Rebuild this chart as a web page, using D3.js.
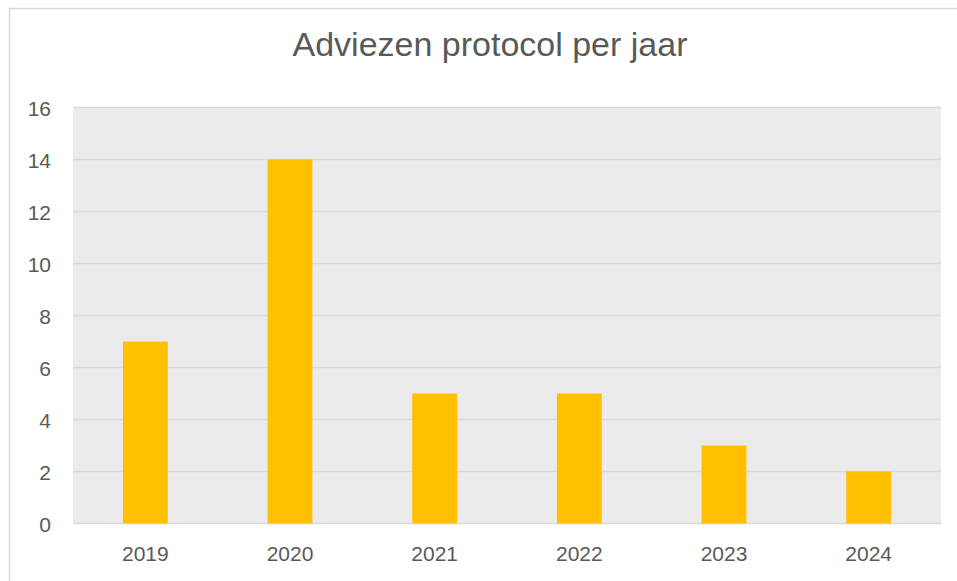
<!DOCTYPE html>
<html>
  <head>
    <meta charset="utf-8">
    <title>Adviezen protocol per jaar</title>
    <script src="https://cdn.jsdelivr.net/npm/d3@7"></script>
    <style>
      body { margin: 0; background: #fff; }
    </style>
  </head>
  <body>
    <script>
    var w = 957;
    var h = 581;

    var years = ["2019", "2020", "2021", "2022", "2023", "2024"];
    var adviezen = [7, 14, 5, 5, 3, 2];
    var yTicks = [0, 2, 4, 6, 8, 10, 12, 14, 16];

    var plotLeft = 73, plotRight = 941, plotTop = 107.5, plotBottom = 523.5;
    var font = "'Liberation Sans', Arial, sans-serif";
    var grey = "#595959";

    var svg = d3.select("body")
      .append("svg")
      .attr("width", w)
      .attr("height", h);

    // outer chart border (runs off the picture right and bottom)
    svg.append("rect")
      .attr("x", 9.5).attr("y", 8.5)
      .attr("width", 960).attr("height", 600)
      .attr("fill", "none")
      .attr("stroke", "#d9d9d9")
      .attr("stroke-width", 1.5);

    var x = d3.scaleBand()
      .domain(years)
      .range([plotLeft, plotRight])
      .paddingInner(0.69)
      .paddingOuter(0.345);

    var y = d3.scaleLinear()
      .domain([0, 16])
      .range([plotBottom, plotTop]);

    // plot background
    svg.append("rect")
      .attr("x", plotLeft).attr("y", plotTop)
      .attr("width", plotRight - plotLeft).attr("height", plotBottom - plotTop)
      .attr("fill", "#ebebeb");

    // gridlines
    svg.append("g")
      .selectAll("line")
      .data(yTicks)
      .enter()
      .append("line")
      .attr("x1", plotLeft).attr("x2", plotRight)
      .attr("y1", function(d){ return y(d) })
      .attr("y2", function(d){ return y(d) })
      .attr("stroke", "#d9d9d9")
      .attr("stroke-width", 1.5);

    // bars
    svg.append("g")
      .selectAll("rect")
      .data(adviezen)
      .enter()
      .append("rect")
      .attr("x", function(d, i){ return x(years[i]) })
      .attr("y", function(d){ return y(d) })
      .attr("width", x.bandwidth())
      .attr("height", function(d){ return y(0) - y(d) })
      .attr("fill", "#ffc000");

    // y axis labels
    var yAxis = svg.append("g")
      .attr("transform", "translate(" + (plotLeft - 22) + ",0)")
      .call(d3.axisLeft(y).tickValues(yTicks).tickSize(0).tickPadding(0));
    yAxis.select(".domain").remove();
    yAxis.selectAll("text")
      .attr("font-family", font)
      .attr("font-size", "21px")
      .attr("fill", grey)
      .attr("dy", "0.36em");

    // x axis labels
    var xAxis = svg.append("g")
      .attr("transform", "translate(0," + plotBottom + ")")
      .call(d3.axisBottom(x).tickSize(0).tickPadding(0));
    xAxis.select(".domain").remove();
    xAxis.selectAll("text")
      .attr("font-family", font)
      .attr("font-size", "21px")
      .attr("fill", grey)
      .attr("dy", null)
      .attr("y", 37);

    // title
    svg.append("text")
      .text("Adviezen protocol per jaar")
      .attr("x", 490)
      .attr("y", 56)
      .attr("text-anchor", "middle")
      .attr("font-family", font)
      .attr("font-size", "34px")
      .attr("fill", grey);
    </script>
  </body>
</html>
